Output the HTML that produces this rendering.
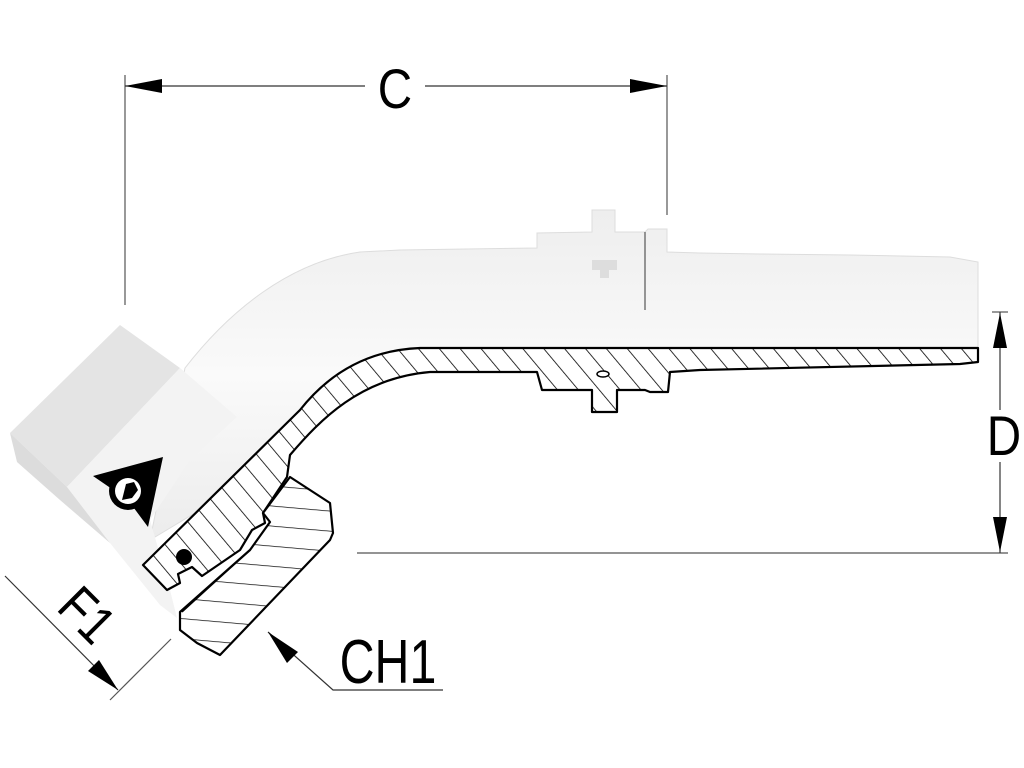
<!DOCTYPE html>
<html><head><meta charset="utf-8"><style>
html,body{margin:0;padding:0;background:#fff;}
svg{display:block;}
text{font-family:"Liberation Sans",sans-serif;fill:#000;}
</style></head><body>
<svg width="1024" height="768" viewBox="0 0 1024 768" xmlns="http://www.w3.org/2000/svg">
<defs>
<pattern id="h1" patternUnits="userSpaceOnUse" width="16" height="16" patternTransform="rotate(-40)">
<rect width="16" height="16" fill="#fff"/><line x1="0" y1="0" x2="0" y2="16" stroke="#000" stroke-width="1.6"/>
</pattern>
<pattern id="h2" patternUnits="userSpaceOnUse" width="20" height="20" patternTransform="rotate(95)">
<rect width="20" height="20" fill="#fff"/><line x1="0" y1="0" x2="0" y2="20" stroke="#000" stroke-width="1.4"/>
</pattern>
<linearGradient id="g1" x1="0" y1="0" x2="0" y2="1">
<stop offset="0" stop-color="#eeeeee"/><stop offset="0.5" stop-color="#fafafa"/><stop offset="1" stop-color="#ececec"/>
</linearGradient>
</defs>

<!-- pipe body (light) -->
<path d="M185,368 C230,310 290,262 360,252 L400,250 L537,248 L537,233 L592,232 L592,210 L615,210 L615,232 L645,232 L648,229 L667,229 L667,252 L700,253 L760,254 L850,255 L950,257 L978,262 L978,348 L420,348 C370,350 330,372 300,410 L200,510 L150,540 Z" fill="url(#g1)" stroke="#ddd" stroke-width="1"/>
<rect x="592" y="260" width="25" height="10" fill="#ddd"/>
<rect x="600" y="270" width="9" height="8" fill="#ddd"/>
<line x1="645" y1="232" x2="645" y2="310" stroke="#555" stroke-width="1.2"/>

<!-- hex nut -->
<polygon points="10,433 120,325 180,368 67,487" fill="#e4e4e4"/>
<polygon points="67,487 180,368 237,417 190,460 150,520 170,590 177,618 160,605 110,543" fill="#f3f3f3"/>
<polygon points="10,433 67,487 110,543 60,500 17,462" fill="#dcdcdc"/>

<!-- section strip -->
<path d="M978,348 L420,348 C370,350 330,372 300,410 L143,565 L167,590 L180,583 L178,574 L192,567 L202,576 L240,550 L252,530 L265,523 L263,513 L287,477 L290,455 C320,420 360,378 430,372 L537,372 L542,390 L592,390 L592,412 L617,412 L617,390 L645,390 L650,392 L668,392 L670,372 L700,370 L960,364 L978,362 Z" fill="url(#h1)" stroke="#000" stroke-width="2.2" stroke-linejoin="round"/>
<ellipse cx="603" cy="374" rx="6" ry="3" fill="#fff" stroke="#000" stroke-width="1.5"/>
<circle cx="184" cy="557" r="8" fill="#000"/>

<!-- nut section -->
<polygon points="290,477 330,503 333,533 330,540 220,655 197,643 180,630 180,612 250,550 270,522 263,513" fill="url(#h2)" stroke="#000" stroke-width="2.2" stroke-linejoin="round"/>
<line x1="182" y1="612" x2="250" y2="550" stroke="#000" stroke-width="1.5"/>

<!-- Dunlop logo -->
<polygon points="93,476 163,457 148,527 128,500" fill="#000"/>
<circle cx="128" cy="491" r="19" fill="#000"/>
<circle cx="128" cy="491" r="13" fill="#fff"/>
<path d="M122,500 L126,484 L134,482 L138,490 L132,498 Z" fill="#000"/>

<!-- Dimension C -->
<line x1="125" y1="75" x2="125" y2="305" stroke="#555" stroke-width="1.2"/>
<line x1="667" y1="75" x2="667" y2="215" stroke="#555" stroke-width="1.2"/>
<line x1="125" y1="86" x2="365" y2="86" stroke="#333" stroke-width="1.2"/>
<line x1="425" y1="86" x2="667" y2="86" stroke="#333" stroke-width="1.2"/>
<polygon points="125,86 162,79 162,93" fill="#000"/>
<polygon points="667,86 630,79 630,93" fill="#000"/>
<text x="395" y="108" font-size="56" text-anchor="middle" transform="translate(395,0) scale(0.85,1) translate(-395,0)">C</text>

<!-- Dimension D -->
<line x1="992" y1="312" x2="1008" y2="312" stroke="#555" stroke-width="1.2"/>
<line x1="357" y1="553" x2="1008" y2="553" stroke="#555" stroke-width="1.2"/>
<line x1="1000" y1="312" x2="1000" y2="410" stroke="#333" stroke-width="1.2"/>
<line x1="1000" y1="462" x2="1000" y2="553" stroke="#333" stroke-width="1.2"/>
<polygon points="1000,313 993,348 1007,348" fill="#000"/>
<polygon points="1000,552 993,517 1007,517" fill="#000"/>
<text x="1004" y="455" font-size="56" text-anchor="middle" transform="translate(1004,0) scale(0.85,1) translate(-1004,0)">D</text>

<!-- Dimension F1 -->
<line x1="5" y1="576" x2="118" y2="690" stroke="#333" stroke-width="1.2"/>
<line x1="110" y1="700" x2="171" y2="639" stroke="#555" stroke-width="1.2"/>
<polygon points="118,690 88,671 99,660" fill="#000"/>
<text x="0" y="0" font-size="54" text-anchor="middle" transform="translate(74,628) rotate(45) scale(0.85,1)">F1</text>

<!-- CH1 -->
<polyline points="268,632 333,690 443,690" fill="none" stroke="#333" stroke-width="1.2"/>
<polygon points="268,632 287,663 298,652" fill="#000"/>
<text x="388" y="683" font-size="62" text-anchor="middle" transform="translate(388,0) scale(0.78,1) translate(-388,0)">CH1</text>
</svg>
</body></html>
